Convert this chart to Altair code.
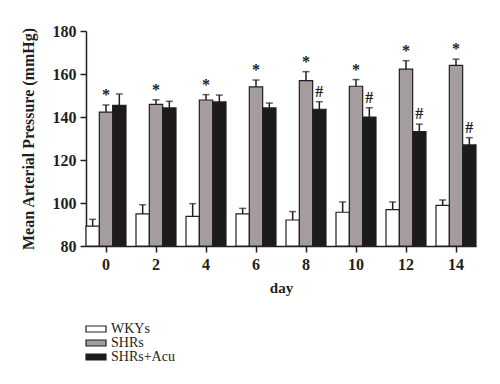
import altair as alt
import pandas as pd

days = ["0", "2", "4", "6", "8", "10", "12", "14"]
groups = ["WKYs", "SHRs", "SHRs+Acu"]
colors = ["#ffffff", "#a59d9d", "#1c1b19"]

wky_mean = [89.2, 94.9, 93.8, 94.9, 92.1, 95.7, 96.9, 98.9]
wky_err = [3.2, 4.3, 5.9, 2.6, 3.9, 4.8, 3.6, 2.5]
shr_mean = [142.3, 145.9, 147.9, 154.0, 156.9, 154.3, 162.3, 164.0]
shr_err = [3.3, 2.1, 2.5, 3.2, 4.2, 3.1, 3.9, 2.9]
acu_mean = [145.4, 144.2, 147.0, 144.2, 143.6, 140.0, 133.2, 127.0]
acu_err = [5.3, 3.1, 3.2, 2.3, 3.5, 4.3, 3.5, 3.4]

star_days = ["0", "2", "4", "6", "8", "10", "12", "14"]
hash_days = ["8", "10", "12", "14"]

rows = []
for g, m, e in zip(groups, [wky_mean, shr_mean, acu_mean], [wky_err, shr_err, acu_err]):
    for d, mv, ev in zip(days, m, e):
        rows.append({"day": d, "group": g, "mean": mv, "upper": mv + ev})
df = pd.DataFrame(rows)

ann = []
for d in star_days:
    r = df[(df.day == d) & (df.group == "SHRs")].iloc[0]
    ann.append({"day": d, "group": "SHRs", "upper": r["upper"], "sym": "*"})
for d in hash_days:
    r = df[(df.day == d) & (df.group == "SHRs+Acu")].iloc[0]
    ann.append({"day": d, "group": "SHRs+Acu", "upper": r["upper"], "sym": "#"})
ann_df = pd.DataFrame(ann)

FONT = "Liberation Serif"
INK = "#231f20"

x_enc = alt.X("day:N", sort=days,
              scale=alt.Scale(paddingInner=0.2, paddingOuter=0),
              axis=alt.Axis(title="day", labelAngle=0, labelFont=FONT, labelFontSize=16,
                            labelFontWeight="bold", labelColor=INK,
                            titleFont=FONT, titleFontSize=15, titleFontWeight="bold",
                            titleColor=INK, domainColor=INK, tickColor=INK,
                            domainWidth=1.5, tickWidth=1.5, tickSize=6, labelPadding=4,
                            titlePadding=8))
xo_enc = alt.XOffset("group:N", sort=groups,
                     scale=alt.Scale(paddingInner=0, paddingOuter=0))
y_scale = alt.Scale(domain=[80, 180], nice=False, zero=False)

bars = alt.Chart(df).mark_bar(stroke=INK, strokeWidth=1.2).encode(
    x=x_enc,
    xOffset=xo_enc,
    y=alt.Y("mean:Q", scale=y_scale,
            axis=alt.Axis(title="Mean Arterial Pressure (mmHg)", values=[80, 100, 120, 140, 160, 180],
                          grid=False, labelFont=FONT, labelFontSize=16, labelFontWeight="bold",
                          labelColor=INK, titleFont=FONT, titleFontSize=16,
                          titleFontWeight="bold", titleColor=INK,
                          domainColor=INK, tickColor=INK, domainWidth=1.5,
                          tickWidth=1.5, tickSize=6, labelPadding=4, titlePadding=16)),
    y2=alt.datum(80),
    fill=alt.Fill("group:N", sort=groups,
                  scale=alt.Scale(domain=groups, range=colors),
                  legend=alt.Legend(title=None, orient="none", legendX=3, legendY=291,
                                    symbolType="M-2,-0.6H2V0.6H-2Z", symbolSize=100,
                                    symbolStrokeColor=INK, symbolStrokeWidth=1.2,
                                    labelFont=FONT, labelFontSize=14, labelColor=INK,
                                    rowPadding=0, labelOffset=8)),
)

rules = alt.Chart(df).mark_rule(color=INK, strokeWidth=1.5).encode(
    x=alt.X("day:N", sort=days), xOffset=alt.XOffset("group:N", sort=groups),
    y="mean:Q", y2="upper:Q",
)
caps = alt.Chart(df).mark_tick(color=INK, thickness=1.5, size=7).encode(
    x=alt.X("day:N", sort=days), xOffset=alt.XOffset("group:N", sort=groups),
    y="upper:Q",
)
texts = alt.Chart(ann_df).mark_text(font=FONT, fontSize=16, fill=INK, fontWeight="bold",
                                    baseline="middle", dy=-10).encode(
    x=alt.X("day:N", sort=days), xOffset=alt.XOffset("group:N", sort=groups),
    y="upper:Q", text="sym:N",
)

chart = alt.layer(bars, rules, caps, texts).properties(
    width=390, height=215,
    autosize=alt.AutoSizeParams(type="none"),
    padding={"left": 78, "top": 23, "right": 16, "bottom": 130},
    background="#ffffff",
).configure_view(stroke=None)

chart.save("out.html", embed_options={"renderer": "svg", "actions": False})
